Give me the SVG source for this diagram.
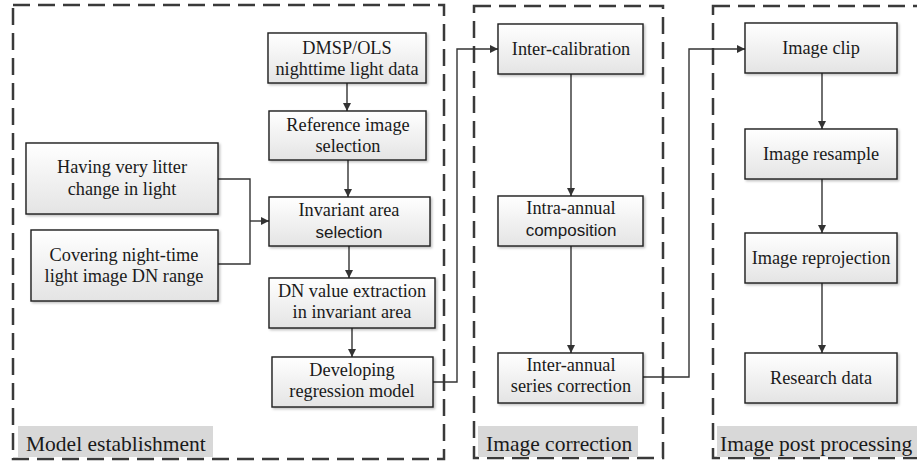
<svg xmlns="http://www.w3.org/2000/svg" width="917" height="461" viewBox="0 0 917 461">
<style>
.panel{fill:none;stroke:#3a3a3a;stroke-width:2.5;stroke-dasharray:17 8}
.box{fill:url(#g);stroke:#1e1e1e;stroke-width:1.4;filter:url(#sh)}
.t{font-family:"Liberation Serif","Times New Roman",serif;font-size:18.3px;fill:#1a1a1a;text-anchor:middle}
.s{font-family:"Liberation Sans",Arial,sans-serif;font-size:17px}
.lab{fill:#d8d8d8}
.lt{font-family:"Liberation Serif","Times New Roman",serif;font-size:21.5px;fill:#1a1a1a}
.c{fill:none;stroke:#333;stroke-width:1.4}
</style>
<defs>
<linearGradient id="g" x1="0" y1="0" x2="0" y2="1">
<stop offset="0" stop-color="#ffffff"/>
<stop offset="1" stop-color="#e4e4e4"/>
</linearGradient>
<filter id="sh" x="-10%" y="-10%" width="130%" height="130%">
<feDropShadow dx="1.5" dy="1.5" stdDeviation="1" flood-color="#000" flood-opacity="0.25"/>
</filter>
<marker id="a" viewBox="0 0 10 10" refX="10" refY="5" markerWidth="8" markerHeight="8" markerUnits="userSpaceOnUse" orient="auto">
<path d="M0,0 L10,5 L0,10 z" fill="#333"/>
</marker>
</defs>
<rect width="917" height="461" fill="#fff"/>

<g id="panels">
<rect class="panel" x="13" y="5" width="431" height="454"/>
<rect class="panel" x="474" y="6" width="189" height="452"/>
<rect class="panel" x="713" y="6" width="215" height="452"/>
</g>

<g id="connectors">
<path class="c" d="M347,83 V111" marker-end="url(#a)"/>
<path class="c" d="M348,160 V197" marker-end="url(#a)"/>
<path class="c" d="M349,246 V278" marker-end="url(#a)"/>
<path class="c" d="M352,328 V357" marker-end="url(#a)"/>
<path class="c" d="M218,179 H250 V264 H218"/>
<path class="c" d="M250,221 H269" marker-end="url(#a)"/>
<path class="c" d="M433,382 H457 V49 H498" marker-end="url(#a)"/>
<path class="c" d="M571,74 V196" marker-end="url(#a)"/>
<path class="c" d="M571,246 V353" marker-end="url(#a)"/>
<path class="c" d="M643,377 H689 V49 H745" marker-end="url(#a)"/>
<path class="c" d="M822,73 V129" marker-end="url(#a)"/>
<path class="c" d="M822,179 V233" marker-end="url(#a)"/>
<path class="c" d="M822,283 V353" marker-end="url(#a)"/>
</g>

<g id="n-dmsp"><rect class="box" x="268" y="33" width="158" height="50"/>
<text class="t" x="347" y="54">DMSP/OLS</text><text class="t" x="347" y="75">nighttime light data</text></g>
<g id="n-ref"><rect class="box" x="269" y="111" width="157" height="49"/>
<text class="t" x="348" y="131">Reference image</text><text class="t" x="348" y="152">selection</text></g>
<g id="n-inv"><rect class="box" x="269" y="197" width="161" height="49"/>
<text class="t" x="349" y="216">Invariant area</text><text class="t s" x="349" y="238">selection</text></g>
<g id="n-having"><rect class="box" x="26" y="143" width="192" height="71"/>
<text class="t" x="122" y="173">Having very litter</text><text class="t" x="122" y="195">change in light</text></g>
<g id="n-covering"><rect class="box" x="31" y="230" width="187" height="71"/>
<text class="t" x="124" y="261">Covering night-time</text><text class="t" x="124" y="282">light image DN range</text></g>
<g id="n-dn"><rect class="box" x="269" y="278" width="166" height="50"/>
<text class="t" x="352" y="297">DN value extraction</text><text class="t" x="352" y="318">in invariant area</text></g>
<g id="n-dev"><rect class="box" x="272" y="357" width="161" height="50"/>
<text class="t" x="352" y="376">Developing</text><text class="t" x="352" y="397">regression model</text></g>

<g id="n-intercal"><rect class="box" x="498" y="24" width="145" height="50"/>
<text class="t" x="571" y="55">Inter-calibration</text></g>
<g id="n-intra"><rect class="box" x="498" y="196" width="145" height="50"/>
<text class="t" x="571" y="214">Intra-annual</text><text class="t s" x="571" y="236">composition</text></g>
<g id="n-interann"><rect class="box" x="498" y="353" width="145" height="50"/>
<text class="t" x="571" y="371">Inter-annual</text><text class="t" x="571" y="392">series correction</text></g>

<g id="n-clip"><rect class="box" x="745" y="23" width="152" height="50"/>
<text class="t" x="821" y="54">Image clip</text></g>
<g id="n-resample"><rect class="box" x="745" y="129" width="152" height="50"/>
<text class="t" x="821" y="160">Image resample</text></g>
<g id="n-reproj"><rect class="box" x="745" y="233" width="152" height="50"/>
<text class="t" x="821" y="264">Image reprojection</text></g>
<g id="n-research"><rect class="box" x="745" y="353" width="152" height="50"/>
<text class="t" x="821" y="384">Research data</text></g>

<g id="labels">
<rect class="lab" x="18" y="426" width="195" height="31"/>
<text class="lt" x="26" y="451">Model establishment</text>
<rect class="lab" x="478" y="426" width="160" height="31"/>
<text class="lt" x="486" y="451">Image correction</text>
<rect class="lab" x="717" y="426" width="200" height="31"/>
<text class="lt" x="720" y="451">Image post processing</text>
</g>
</svg>
